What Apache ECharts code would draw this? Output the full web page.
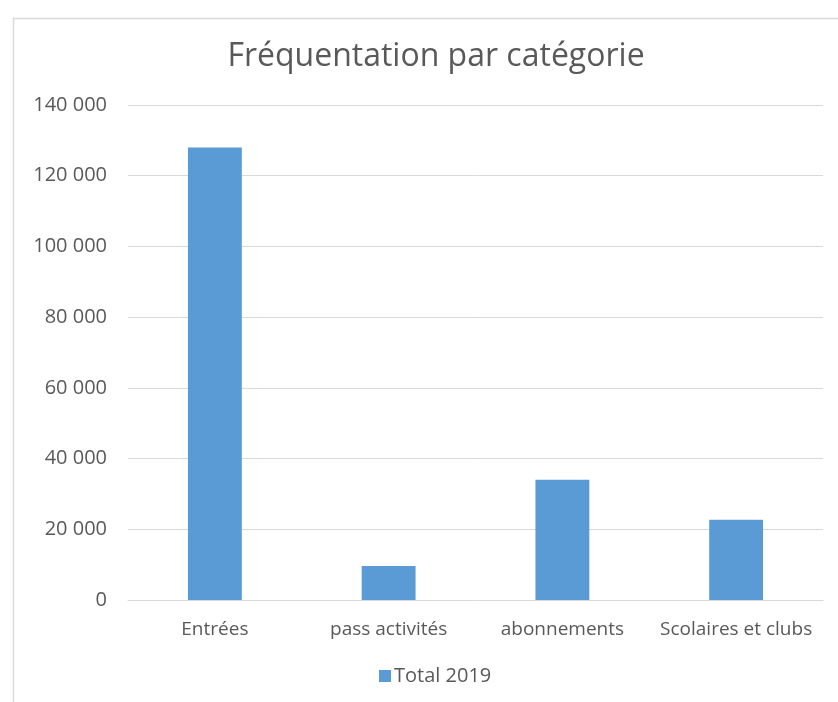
<!DOCTYPE html>
<html><head><meta charset="utf-8">
<script src="https://cdn.jsdelivr.net/npm/echarts@6/dist/echarts.min.js"></script>
<style>html,body{margin:0;padding:0;background:#fff}#c{width:838px;height:702px}</style>
</head><body><div id="c"></div>
<script>
const categories = ["Entrées", "pass activités", "abonnements", "Scolaires et clubs"];
const total2019 = [128000, 9600, 34000, 22700];
const seriesName = "Total 2019";
const titleText = "Fréquentation par catégorie";

const chart = echarts.init(document.getElementById('c'));
const font = "'Open Sans', 'Liberation Sans', sans-serif";
chart.setOption({
  animation: false,
  backgroundColor: '#fff',
  graphic: [{
    type: 'rect', left: 11, top: 16, silent: true,
    shape: { width: 900, height: 800 },
    style: { fill: 'none', stroke: '#d9d9d9', lineWidth: 1.5 }
  }],
  title: {
    text: titleText, left: 431, top: 36, textAlign: 'center',
    textStyle: { fontFamily: font, fontSize: 32, fontWeight: 'normal', color: '#595959' }
  },
  legend: {
    data: [seriesName], left: 374, top: 661,
    itemWidth: 12, itemHeight: 12, icon: 'rect', itemGap: 4,
    textStyle: { fontFamily: font, fontSize: 20, color: '#595959', padding: [0,0,0,-2] }
  },
  grid: { left: 128, right: 15, top: 105, bottom: 102, containLabel: false },
  xAxis: {
    type: 'category', data: categories,
    axisLine: { show: true, lineStyle: { color: '#d9d9d9', width: 1 } },
    axisTick: { show: false },
    axisLabel: { fontFamily: font, fontSize: 19, color: '#595959', margin: 20, interval: 0, hideOverlap: false }
  },
  yAxis: {
    type: 'value', min: 0, max: 140000, interval: 20000,
    axisLine: { show: false }, axisTick: { show: false },
    splitLine: { lineStyle: { color: '#d9d9d9', width: 1 } },
    axisLabel: {
      fontFamily: font, fontSize: 20, color: '#595959', margin: 21,
      formatter: v => String(v).replace(/\B(?=(\d{3})+(?!\d))/g, ' ')
    }
  },
  series: [{
    name: seriesName, type: 'bar', data: total2019, barWidth: '31%',
    itemStyle: { color: '#5b9bd5' }
  }]
});
</script></body></html>
